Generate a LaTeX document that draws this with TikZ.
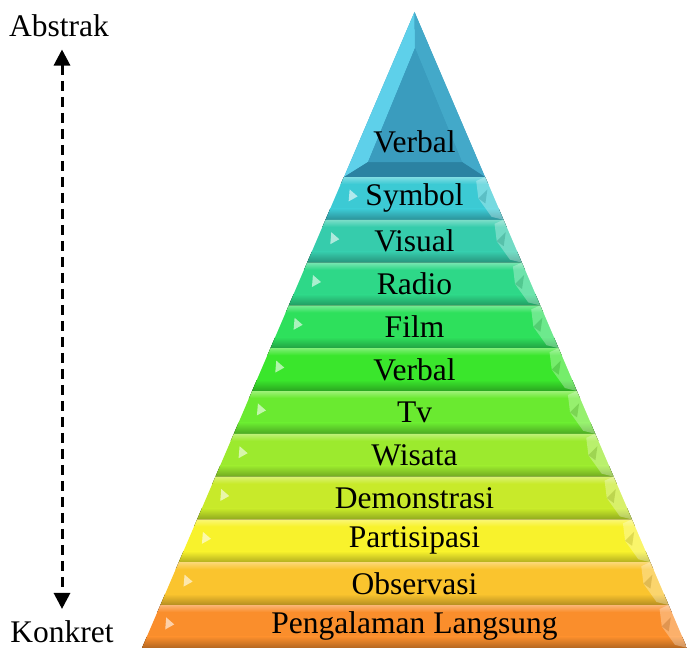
\documentclass[tikz,border=0pt]{standalone}
\usepackage{fontspec}
\setmainfont{Liberation Serif}
\usetikzlibrary{arrows.meta}

% Layer colours, bottom of the cone is warm, top is cool
\definecolor{capMain}{HTML}{3A9CBE}
\definecolor{capLight}{HTML}{5ED0EA}
\definecolor{capDark}{HTML}{2B82A2}
\definecolor{cSymbol}{HTML}{3CCAD4}
\definecolor{cVisual}{HTML}{36CCAC}
\definecolor{cRadio}{HTML}{2ED888}
\definecolor{cFilm}{HTML}{2EE05C}
\definecolor{cVerbal}{HTML}{3AE62C}
\definecolor{cTv}{HTML}{6AEA30}
\definecolor{cWisata}{HTML}{9CEA2E}
\definecolor{cDemo}{HTML}{C8EA2A}
\definecolor{cPartisipasi}{HTML}{F8F22C}
\definecolor{cObservasi}{HTML}{FAC42E}
\definecolor{cPengalaman}{HTML}{FA8E2C}

\tikzset{
    layer text/.style={font=\fontsize{31.5}{36}\selectfont, inner sep=0pt},
    side text/.style={font=\fontsize{31.5}{36}\selectfont, inner sep=0pt, anchor=base}
}

\begin{document}
\begin{tikzpicture}[
    x=1pt,
    y=-1pt
]
\useasboundingbox (0,0) rectangle (687,650);

% Top cap
\fill[capMain] (414.5,12) -- (344,177) -- (485,177) -- cycle;
\fill[capLight] (414.5,12) -- (344,177) -- (368,162) -- (415,48) -- cycle;
\fill[capMain!75!capLight] (414.5,12) -- (485,177) -- (462,162) -- (415,48) -- cycle;
\fill[capDark] (344,177) -- (485,177) -- (462,162) -- (368,162) -- cycle;
\fill[capMain] (415,48) -- (368,162) -- (462,162) -- cycle;
\node[layer text] (cap) at (414.5,142) {Verbal};

% Bands
\foreach \i/\name/\col in {
    0/Symbol/cSymbol,
    1/Visual/cVisual,
    2/Radio/cRadio,
    3/Film/cFilm,
    4/Verbal/cVerbal,
    5/Tv/cTv,
    6/Wisata/cWisata,
    7/Demonstrasi/cDemo,
    8/Partisipasi/cPartisipasi,
    9/Observasi/cObservasi,
    10/Pengalaman Langsung/cPengalaman%
} {
    \pgfmathsetmacro\ya{177+42.8*\i}
    \pgfmathsetmacro\yb{\ya+42.8}
    \pgfmathsetmacro\ym{(\ya+\yb)/2}
    \pgfmathsetmacro\xla{414.5-0.4285*(\ya-12)}
    \pgfmathsetmacro\xlb{414.5-0.4285*(\yb-12)}
    \pgfmathsetmacro\xlm{414.5-0.4285*(\ym-12)}
    \pgfmathsetmacro\xra{414.5+0.4285*(\ya-12)}
    \pgfmathsetmacro\xrb{414.5+0.4285*(\yb-12)}
    \pgfmathsetmacro\xrm{414.5+0.4285*(\ym-12)}
    \begin{scope}
        \clip (\xla,\ya) -- (\xra,\ya) -- (\xrb,\yb) -- (\xlb,\yb) -- cycle;
        \fill[\col] (0,\ya) rectangle (687,\yb);
        \fill[top color=\col!65!white, bottom color=\col] (0,\ya) rectangle (687,\ya+7);
        \fill[top color=\col, bottom color=\col!72!black] (0,\yb-11) rectangle (687,\yb);
    \end{scope}
    % bevel on the right edge
    \fill[white, opacity=0.3] (\xra,\ya) -- (\xrb,\yb) -- (\xrb-12,\yb-3)
        -- (\xrm-16,\ym) -- (\xra-9,\ya+4) -- cycle;
    \fill[\col!70!black, opacity=0.35] (\xrm-16,\ym) -- (\xrm-7,\ym-9) -- (\xrm-9,\ym+5) -- cycle;
    % glint on the left edge
    \fill[white, opacity=0.6] (\xlm+15,\ym-9) -- (\xlm+23,\ym-2) -- (\xlm+14,\ym+3) -- cycle;
    \node[layer text] (band\i) at (414.5,\ym) {\name};
}

% Scale from concrete to abstract
\node[side text] (abstrak) at (59,37) {Abstrak};
\node[side text] (konkret) at (62,642) {Konkret};
\draw[{Triangle[width=16pt,length=16pt]}-{Triangle[width=16pt,length=16pt]},
    line width=3, dash pattern=on 10pt off 6pt, shorten <=12, shorten >=11]
    (abstrak.south -| konkret.north) -- (konkret.north);

\end{tikzpicture}
\end{document}
